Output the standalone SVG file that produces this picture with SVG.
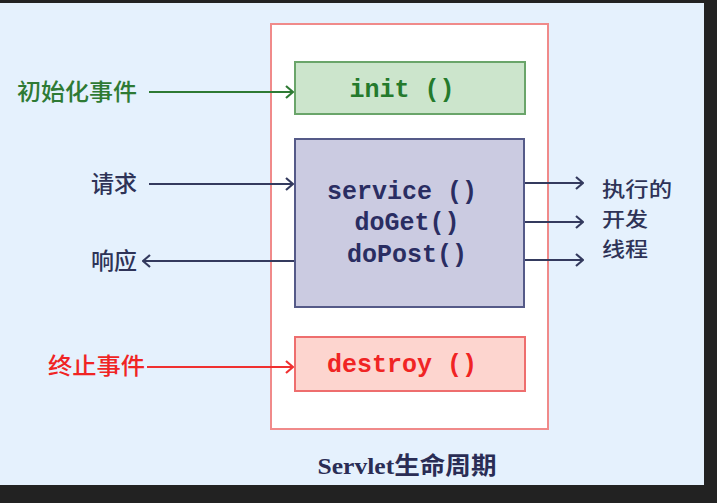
<svg xmlns="http://www.w3.org/2000/svg" width="717" height="503" viewBox="0 0 717 503">
<defs>
<style>
.cjk{font-family:"Noto Sans CJK SC","Noto Sans",sans-serif;font-size:23px;font-weight:500}
.thr{font-family:"Noto Sans CJK SC","Noto Sans",sans-serif;font-size:20px;font-weight:500}
.mono{font-family:"Liberation Mono","DejaVu Sans Mono",monospace;font-size:25px;font-weight:bold;text-anchor:middle}
.ln{fill:none;stroke-width:2}
</style>
<marker id="ag" markerWidth="10" markerHeight="14" refX="9" refY="7" orient="auto" markerUnits="userSpaceOnUse"><path d="M2,1 L9,7 L2,13" fill="none" stroke="#2E7A34" stroke-width="2.2"/></marker>
<marker id="an" markerWidth="10" markerHeight="14" refX="9" refY="7" orient="auto" markerUnits="userSpaceOnUse"><path d="M2,1 L9,7 L2,13" fill="none" stroke="#343A5E" stroke-width="2.2"/></marker>
<marker id="ar" markerWidth="10" markerHeight="14" refX="9" refY="7" orient="auto" markerUnits="userSpaceOnUse"><path d="M2,1 L9,7 L2,13" fill="none" stroke="#F03030" stroke-width="2.2"/></marker>
</defs>
<rect x="0" y="0" width="717" height="503" fill="#222222"/>
<rect x="0" y="3" width="704" height="482" fill="#E5F1FD"/>
<g id="lifecycle">
<rect x="271" y="24" width="277" height="405" fill="#FFFFFF" stroke="#F08A8A" stroke-width="2"/>
<text x="407" y="474" font-family="'Liberation Serif','Noto Sans CJK SC',serif" font-size="24" fill="#2A2D55" text-anchor="middle" textLength="179" lengthAdjust="spacingAndGlyphs" font-weight="600">Servlet生命周期</text>
</g>
<g id="init">
<rect x="295" y="62" width="230" height="52" fill="#CCE5CC" stroke="#6AA56A" stroke-width="2"/>
<text class="mono" x="402" y="97" fill="#247A2C">init ()</text>
</g>
<g id="service">
<rect x="295" y="139" width="229" height="168" fill="#CBCBE1" stroke="#555A88" stroke-width="2"/>
<text class="mono" x="402" y="199" fill="#2A2D62">service ()</text>
<text class="mono" x="407" y="230" fill="#2A2D62">doGet()</text>
<text class="mono" x="407" y="262" fill="#2A2D62">doPost()</text>
</g>
<g id="destroy">
<rect x="295" y="337" width="230" height="54" fill="#FDD5CF" stroke="#EE6E6E" stroke-width="2"/>
<text class="mono" x="402" y="372" fill="#F02424">destroy ()</text>
</g>
<g id="init-event"><text class="cjk" x="17" y="100" fill="#2E7A34" textLength="120" lengthAdjust="spacingAndGlyphs">初始化事件</text></g>
<g id="request"><text class="cjk" x="91" y="192" fill="#2E3357" textLength="46" lengthAdjust="spacingAndGlyphs">请求</text></g>
<g id="response"><text class="cjk" x="91" y="269" fill="#2E3357" textLength="46" lengthAdjust="spacingAndGlyphs">响应</text></g>
<g id="destroy-event"><text class="cjk" x="48" y="374" fill="#F02424" textLength="97" lengthAdjust="spacingAndGlyphs">终止事件</text></g>
<g id="threads">
<text class="thr" x="602" y="197" fill="#2E3357" textLength="70" lengthAdjust="spacingAndGlyphs">执行的</text>
<text class="thr" x="602" y="227" fill="#2E3357" textLength="46" lengthAdjust="spacingAndGlyphs">开发</text>
<text class="thr" x="602" y="257" fill="#2E3357" textLength="46" lengthAdjust="spacingAndGlyphs">线程</text>
</g>
<g id="connectors">
<line class="ln" x1="149" y1="92" x2="293" y2="92" stroke="#2E7A34" marker-end="url(#ag)"/>
<line class="ln" x1="149" y1="184" x2="293" y2="184" stroke="#343A5E" marker-end="url(#an)"/>
<line class="ln" x1="294" y1="261" x2="143" y2="261" stroke="#343A5E" marker-end="url(#an)"/>
<line class="ln" x1="147" y1="367" x2="293" y2="367" stroke="#F03030" marker-end="url(#ar)"/>
<line class="ln" x1="525" y1="183" x2="583" y2="183" stroke="#343A5E" marker-end="url(#an)"/>
<line class="ln" x1="525" y1="222" x2="583" y2="222" stroke="#343A5E" marker-end="url(#an)"/>
<line class="ln" x1="525" y1="260" x2="583" y2="260" stroke="#343A5E" marker-end="url(#an)"/>
</g>
</svg>
